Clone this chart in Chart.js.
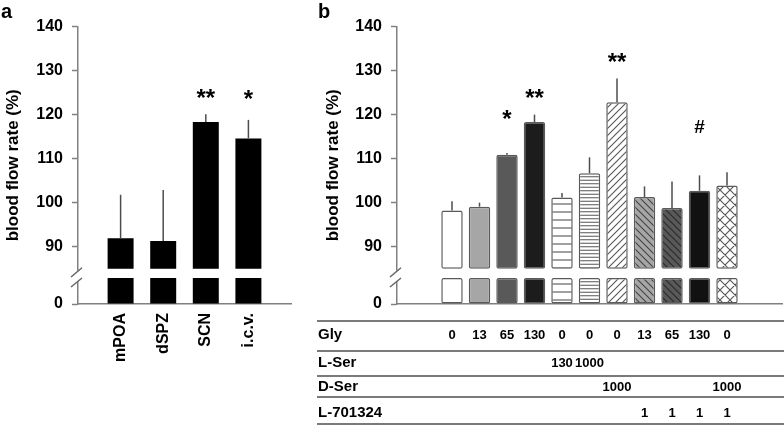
<!DOCTYPE html>
<html>
<head>
<meta charset="utf-8">
<script src="https://cdn.jsdelivr.net/npm/chart.js"></script>
<style>
  body { margin: 0; background: #fff; width: 784px; height: 426px; position: relative; overflow: hidden; font-family: "Liberation Sans", Arial, sans-serif; }
  .wrap { position: absolute; top: 0; }
  .panel { position: absolute; font-weight: bold; font-size: 20px; line-height: 20px; color: #000; }
</style>
</head>
<body>
<div class="wrap" style="left:0"><canvas id="chartA" width="300" height="426"></canvas></div>
<div class="wrap" style="left:260px"><canvas id="chartB" width="524" height="426"></canvas></div>
<div class="panel" style="left:1px;top:1px">a</div>
<div class="panel" style="left:318px;top:1px">b</div>
<script>
// panel a
const sitesA = ['mPOA', 'dSPZ', 'SCN', 'i.c.v.'];
const flowA = [91.9, 91.3, 118.3, 114.6];
const semA = [9.9, 11.6, 1.8, 4.2];
const sigA = ['', '', '**', '*'];
const sigYA = [null, null, 124.8, 124.5];

// panel b
const flowB = [98.2, 99.1, 110.9, 118.3, 101.2, 106.7, 122.8, 101.3, 98.8, 102.7, 103.9];
const semB = [2.1, 0.9, 0.4, 1.7, 1.0, 3.6, 5.4, 2.4, 6.0, 3.5, 3.0];
const sigB = ['', '', '*', '**', '', '', '**', '', '', '#', ''];
const sigYB = [null, null, 120.0, 124.9, null, null, 132.9, null, null, 117.2, null];

// treatment table under panel b
const tableNames = ['Gly', 'L-Ser', 'D-Ser', 'L-701324'];
const glyDose = ['0', '13', '65', '130', '0', '0', '0', '13', '65', '130', '0'];
const lSerDose = ['', '', '', '', '130', '1000', '', '', '', '', ''];
const dSerDose = ['', '', '', '', '', '', '1000', '', '', '', '1000'];
const l701324Dose = ['', '', '', '', '', '', '', '1', '1', '1', '1'];

const yTicks = [0, 90, 100, 110, 120, 130, 140];

// broken axis: everything from 90 up is shifted down next to 0
const BREAK_SHIFT = 77;
const LOW_TOP = 5.9, HIGH_BASE = 8.0;
const toAxis = v => v <= 0 ? 0 : v - BREAK_SHIFT;
const FONT = '"Liberation Sans", Arial, sans-serif';

function pad(arr, n, fill) {
  const f = fill === undefined ? null : fill;
  return Array(n).fill(f).concat(arr, Array(n).fill(f));
}

function makePattern(bg, kind, size, line) {
  const c = document.createElement('canvas');
  c.width = size; c.height = size;
  const g = c.getContext('2d');
  g.fillStyle = bg; g.fillRect(0, 0, size, size);
  g.strokeStyle = line || '#555'; g.lineWidth = 1.1;
  g.beginPath();
  if (kind === 'h') { g.moveTo(0, size / 2); g.lineTo(size, size / 2); }
  if (kind === 'hh') { g.moveTo(0, size / 4); g.lineTo(size, size / 4); g.moveTo(0, size * 3 / 4); g.lineTo(size, size * 3 / 4); }
  if (kind === 'fwd' || kind === 'x') {
    g.moveTo(0, size); g.lineTo(size, 0);
    g.moveTo(-1, 1); g.lineTo(1, -1);
    g.moveTo(size - 1, size + 1); g.lineTo(size + 1, size - 1);
  }
  if (kind === 'back' || kind === 'x') {
    g.moveTo(0, 0); g.lineTo(size, size);
    g.moveTo(size - 1, -1); g.lineTo(size + 1, 1);
    g.moveTo(-1, size - 1); g.lineTo(1, size + 1);
  }
  g.stroke();
  return g.createPattern(c, 'repeat');
}

const fillsB = [
  '#ffffff', '#a6a6a6', '#595959', '#1c1c1c',
  makePattern('#fff', 'h', 8), makePattern('#fff', 'hh', 7),
  makePattern('#fff', 'fwd', 7), makePattern('#a6a6a6', 'back', 7, '#444'),
  makePattern('#595959', 'back', 7, '#2a2a2a'), '#111111',
  makePattern('#fff', 'x', 10)
];

function yScale(width) {
  return {
    min: 0,
    max: toAxis(140),
    afterBuildTicks: s => { s.ticks = yTicks.map(v => ({ value: toAxis(v) })); },
    afterFit: s => { s.width = width; },
    ticks: {
      callback: v => String(v === 0 ? 0 : v + BREAK_SHIFT),
      color: '#000', padding: 9,
      font: { family: FONT, size: 16, weight: 'bold' }
    },
    grid: { drawOnChartArea: false, tickLength: 6, tickColor: '#808080', tickWidth: 1.5 },
    border: { color: '#808080', width: 1.5 },
    title: {
      display: true, text: 'blood flow rate (%)', color: '#000',
      font: { family: FONT, size: 17, weight: 'bold' },
      padding: { top: 3, bottom: 0 }
    }
  };
}

// x scale keeps its own side padding at zero so the layout padding decides the plot width
function fixX(height) {
  return s => { s.height = height; s.paddingLeft = 0; s.paddingRight = 0; };
}

function extras(flow, sem, sig, sigY, padN, table) {
  return {
    id: 'extras',
    afterDatasetsDraw(chart) {
      const { ctx, scales: { x, y } } = chart;
      ctx.save();
      flow.forEach((v, i) => {
        const px = x.getPixelForValue(i + padN);
        ctx.strokeStyle = '#4d4d4d'; ctx.lineWidth = 1.5;
        ctx.beginPath();
        ctx.moveTo(px, y.getPixelForValue(toAxis(v)));
        ctx.lineTo(px, y.getPixelForValue(toAxis(v + sem[i])));
        ctx.stroke();
        if (sig[i]) {
          ctx.font = 'bold ' + (sig[i] === '#' ? 19 : 24) + 'px ' + FONT;
          ctx.fillStyle = '#000'; ctx.textAlign = 'center'; ctx.textBaseline = 'alphabetic';
          const m = ctx.measureText(sig[i]);
          const yc = y.getPixelForValue(toAxis(sigY[i]));
          ctx.fillText(sig[i], px, yc + (m.actualBoundingBoxAscent - m.actualBoundingBoxDescent) / 2);
        }
      });
      ctx.restore();
    },
    afterDraw(chart) {
      const { ctx, chartArea, scales: { x, y } } = chart;
      const ax = chartArea.left;
      const gTop = y.getPixelForValue(HIGH_BASE), gBot = y.getPixelForValue(LOW_TOP);
      ctx.save();
      // axis break
      ctx.fillStyle = '#fff';
      ctx.fillRect(ax - 2, gTop + 2, 4, gBot - gTop + 1);
      ctx.strokeStyle = '#666'; ctx.lineWidth = 1.5;
      ctx.beginPath();
      ctx.moveTo(ax - 7, gBot - 1); ctx.lineTo(ax + 4, gTop - 1);
      ctx.moveTo(ax - 7, gBot + 9); ctx.lineTo(ax + 4, gBot);
      ctx.stroke();
      if (table) {
        const base = chartArea.bottom;
        ctx.strokeStyle = '#7a7a7a'; ctx.lineWidth = 2;
        ctx.beginPath();
        [17, 47, 72, 93, 120].forEach(dy => {
          ctx.moveTo(57, base + dy); ctx.lineTo(chart.width, base + dy);
        });
        ctx.stroke();
        const rowDy = [31, 59, 83, 109];
        ctx.fillStyle = '#000'; ctx.textBaseline = 'middle';
        table.forEach((row, r) => {
          ctx.font = 'bold 15px ' + FONT; ctx.textAlign = 'left';
          ctx.fillText(tableNames[r], 58, base + rowDy[r]);
          ctx.font = 'bold 13px ' + FONT; ctx.textAlign = 'center';
          row.forEach((d, i) => {
            if (d) ctx.fillText(d, x.getPixelForValue(i + padN), base + rowDy[r]);
          });
        });
      }
      ctx.restore();
    }
  };
}

new Chart(document.getElementById('chartA'), {
  type: 'bar',
  data: {
    labels: pad(sitesA, 1, ''),
    datasets: [
      { data: pad(flowA.map(() => [0, LOW_TOP]), 1), backgroundColor: '#000' },
      { data: pad(flowA.map(v => [HIGH_BASE, toAxis(v)]), 1), backgroundColor: '#000' }
    ]
  },
  options: {
    responsive: false,
    animation: false,
    datasets: { bar: { grouped: false, barPercentage: 0.61, categoryPercentage: 1, borderWidth: 0 } },
    layout: { padding: { left: 0, right: 9, top: 26.5, bottom: 52 } },
    plugins: { legend: { display: false }, tooltip: { enabled: false } },
    scales: {
      x: {
        offset: false,
        afterFit: fixX(70),
        grid: { display: false, drawTicks: false },
        border: { color: '#808080', width: 1.5 },
        ticks: {
          autoSkip: false, minRotation: 90, maxRotation: 90, padding: 9, color: '#000',
          font: { family: FONT, size: 16, weight: 'bold' }
        }
      },
      y: yScale(78)
    }
  },
  plugins: [extras(flowA, semA, sigA, sigYA, 1, null)]
});

new Chart(document.getElementById('chartB'), {
  type: 'bar',
  data: {
    labels: pad(flowB.map((v, i) => String(i + 1)), 2, ''),
    datasets: [
      { data: pad(flowB.map(() => [0, LOW_TOP]), 2), backgroundColor: pad(fillsB, 2, 'transparent') },
      { data: pad(flowB.map(v => [HIGH_BASE, toAxis(v)]), 2), backgroundColor: pad(fillsB, 2, 'transparent') }
    ]
  },
  options: {
    responsive: false,
    animation: false,
    datasets: {
      bar: {
        grouped: false, barPercentage: 0.78, categoryPercentage: 1,
        borderWidth: 1.5, borderColor: '#5a5a5a', borderRadius: 2, borderSkipped: false
      }
    },
    layout: { padding: { left: 60, right: 2, top: 26.5, bottom: 122 } },
    plugins: { legend: { display: false }, tooltip: { enabled: false } },
    scales: {
      x: {
        offset: false,
        afterFit: fixX(0),
        grid: { display: false, drawTicks: false },
        border: { color: '#808080', width: 1.5 },
        ticks: { display: false }
      },
      y: yScale(77)
    }
  },
  plugins: [extras(flowB, semB, sigB, sigYB, 2, [glyDose, lSerDose, dSerDose, l701324Dose])]
});
</script>
</body>
</html>
